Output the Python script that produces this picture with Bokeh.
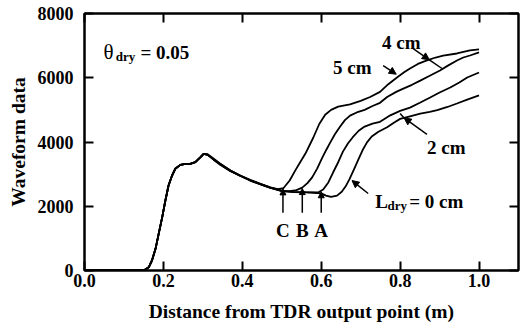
from bokeh.plotting import figure
from bokeh.models import (LinearAxis, FixedTicker, NumeralTickFormatter, Label,
                          Arrow, NormalHead, Range1d)
from bokeh.embed import file_html
from bokeh.resources import INLINE

# ---------------- data ----------------
# common rising edge (all four waveforms coincide here)
x_common = [0.0, 0.150, 0.163, 0.171, 0.180, 0.188, 0.197, 0.205, 0.213, 0.222,
            0.230, 0.243, 0.256, 0.268, 0.281, 0.294, 0.302]
y_common = [0, 0, 104, 311, 675, 1141, 1660, 2179, 2646, 2957,
            3165, 3289, 3320, 3320, 3372, 3528, 3632]

# L_dry = 5 cm
x_5cm = [0.312, 0.327, 0.344, 0.370, 0.395, 0.420, 0.446, 0.471, 0.490,
         0.504, 0.520, 0.534, 0.547, 0.560, 0.580, 0.595, 0.610, 0.625, 0.643,
         0.673, 0.700, 0.724, 0.749, 0.770, 0.792, 0.810, 0.825, 0.845, 0.868,
         0.890, 0.909, 0.944, 0.977, 1.000]
y_5cm = [3610, 3476, 3320, 3113, 2957, 2820, 2700, 2590, 2530,
         2560, 2800, 3110, 3380, 3640, 4140, 4560, 4850, 5000, 5100,
         5170, 5280, 5400, 5560, 5800, 6010, 6170, 6290, 6430, 6540,
         6630, 6690, 6755, 6850, 6880]

# L_dry = 4 cm
x_4cm = [0.312, 0.327, 0.344, 0.370, 0.395, 0.420, 0.446, 0.471, 0.490,
         0.500, 0.520, 0.537, 0.552, 0.565, 0.577, 0.590, 0.603, 0.613, 0.623,
         0.635, 0.648, 0.660, 0.673, 0.690, 0.710, 0.730, 0.749, 0.767, 0.790,
         0.808, 0.830, 0.851, 0.875, 0.901, 0.920, 0.944, 0.960, 0.977, 1.000]
y_4cm = [3600, 3450, 3290, 3090, 2940, 2800, 2680, 2570, 2510,
         2480, 2470, 2500, 2580, 2720, 2900, 3180, 3520, 3760, 3990,
         4250, 4480, 4680, 4820, 4920, 5000, 5120, 5220, 5400, 5560,
         5660, 5780, 5910, 6060, 6225, 6370, 6537, 6630, 6693, 6790]

# L_dry = 2 cm
x_2cm = [0.312, 0.327, 0.344, 0.370, 0.395, 0.420, 0.446, 0.471, 0.490,
         0.500, 0.530, 0.560, 0.592, 0.605, 0.618, 0.630, 0.643, 0.655, 0.668,
         0.680, 0.695, 0.710, 0.730, 0.749, 0.775, 0.800, 0.825, 0.850, 0.876,
         0.900, 0.927, 0.950, 0.970, 1.000]
y_2cm = [3620, 3480, 3320, 3110, 2950, 2810, 2690, 2580, 2520,
         2480, 2450, 2440, 2430, 2520, 2740, 3050, 3370, 3700, 3960,
         4150, 4350, 4480, 4570, 4630, 4830, 4970, 5070, 5220, 5385,
         5540, 5697, 5850, 6008, 6163]

# L_dry = 0 cm
x_0cm = [0.312, 0.327, 0.344, 0.370, 0.395, 0.420, 0.446, 0.471, 0.490,
         0.500, 0.530, 0.560, 0.580, 0.600, 0.612, 0.625, 0.640, 0.652, 0.662,
         0.672, 0.683, 0.694, 0.705, 0.716, 0.728, 0.745, 0.767, 0.785, 0.800,
         0.825, 0.851, 0.875, 0.894, 0.920, 0.944, 0.970, 1.000]
y_0cm = [3600, 3460, 3300, 3100, 2950, 2800, 2690, 2580, 2510,
         2470, 2440, 2430, 2420, 2400, 2330, 2290, 2330, 2450, 2620,
         2850, 3150, 3450, 3750, 3990, 4170, 4320, 4460, 4610, 4720,
         4800, 4880, 4940, 4990, 5090, 5198, 5320, 5450]

series = [(x_5cm, y_5cm), (x_4cm, y_4cm), (x_2cm, y_2cm), (x_0cm, y_0cm)]

# departure points marked C, B, A
mark_x = [0.503, 0.552, 0.600]
mark_tip = [2540, 2550, 2450]
mark_labels = ["C", "B", "A"]

x_ticks = [0.0, 0.2, 0.4, 0.6, 0.8, 1.0]
y_ticks = [0, 2000, 4000, 6000, 8000]

# ---------------- figure ----------------
FONT = "Liberation Serif"

p = figure(width=520, height=326, output_backend="svg", toolbar_location=None,
           x_range=Range1d(0, 1.1), y_range=Range1d(0, 8000),
           x_axis_label="Distance from TDR output point (m)",
           y_axis_label="Waveform data",
           min_border_left=84, min_border_right=2, min_border_top=13,
           min_border_bottom=56)
p.xgrid.visible = False
p.ygrid.visible = False
p.outline_line_color = "black"
p.outline_line_width = 2
p.background_fill_color = "white"
p.border_fill_color = "white"

for ax in (p.xaxis[0], p.yaxis[0]):
    ax.axis_line_width = 2
    ax.major_tick_line_width = 2
    ax.major_tick_in = 9
    ax.major_tick_out = 0
    ax.minor_tick_line_color = None
    ax.major_label_text_font = FONT
    ax.major_label_text_font_style = "bold"
    ax.major_label_text_font_size = "18px"
    ax.major_label_text_color = "black"
    ax.axis_label_text_font = FONT
    ax.axis_label_text_font_style = "bold"
    ax.axis_label_text_font_size = "19.5px"
    ax.axis_label_text_color = "black"

p.xaxis[0].ticker = FixedTicker(ticks=x_ticks)
p.xaxis[0].formatter = NumeralTickFormatter(format="0.0")
p.xaxis[0].major_label_standoff = 3
p.xaxis[0].axis_label_standoff = 11
p.yaxis[0].ticker = FixedTicker(ticks=y_ticks)
p.yaxis[0].major_label_standoff = 11
p.yaxis[0].axis_label_standoff = 6

# mirrored axes (ticks only, no labels) on top and right
for loc, tk in (("above", x_ticks), ("right", y_ticks)):
    ax = LinearAxis(ticker=FixedTicker(ticks=tk), axis_line_width=2,
                    major_tick_line_width=2, major_tick_in=9, major_tick_out=0,
                    minor_tick_line_color=None, major_label_text_color=None,
                    major_label_text_font_size="1px", major_label_standoff=0,
                    major_label_overrides={t: " " for t in tk})
    p.add_layout(ax, loc)

for xs, ys in series:
    p.line(x_common + xs, y_common + ys, line_color="black", line_width=1.8)


def lab(x, y, text, size="19px", style="bold", align="left", font=FONT):
    p.add_layout(Label(x=x, y=y, text=text, text_font=font,
                       text_font_style=style, text_font_size=size,
                       text_color="black", text_align=align,
                       text_baseline="alphabetic"))


def arrow(x0, y0, x1, y1, size=7):
    p.add_layout(Arrow(x_start=x0, y_start=y0, x_end=x1, y_end=y1,
                       line_width=1.5, line_color="black",
                       end=NormalHead(size=size, fill_color="black",
                                      line_color="black", line_width=1)))


# theta_dry = 0.05
lab(0.048, 6786, "θ", size="21px", style="normal")
lab(0.079, 6661, "dry", size="13px")
lab(0.142, 6786, "= 0.05")

# curve labels
lab(0.754, 7097, "4 cm")
lab(0.630, 6319, "5 cm")
lab(0.868, 3829, "2 cm")
lab(0.737, 2150, "L")
lab(0.768, 2026, "dry", size="13px")
lab(0.823, 2150, "= 0 cm")

# arrows for the curve labels
arrow(0.757, 6381, 0.790, 6110)
arrow(0.833, 6910, 0.874, 6560)
p.line([0.874, 0.906], [6560, 6288], line_color="black", line_width=1.5)
arrow(0.868, 4240, 0.810, 4750)
p.line([0.810, 0.800], [4750, 4890], line_color="black", line_width=1.5)
arrow(0.719, 2397, 0.678, 2800)

# C, B, A markers
for mx, mt, ml in zip(mark_x, mark_tip, mark_labels):
    arrow(mx, 1800, mx, mt, size=6)
    lab(mx, 1245, ml, align="center")

open("out.html", "w").write(file_html(p, INLINE))
